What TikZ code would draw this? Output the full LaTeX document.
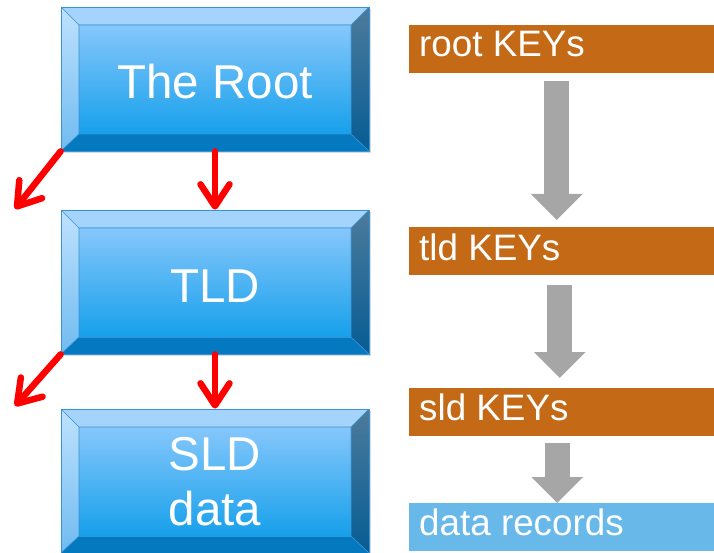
\documentclass[tikz,border=0pt]{standalone}
\usepackage{fontspec}
\setmainfont{Liberation Sans}
\usetikzlibrary{arrows.meta,calc,shadows}

\definecolor{bevtop}{HTML}{A4D3FB}
\definecolor{bevleftA}{HTML}{BFE2FE}
\definecolor{bevleftB}{HTML}{70BBF0}
\definecolor{bevrightA}{HTML}{4D7B9C}
\definecolor{bevrightB}{HTML}{065C93}
\definecolor{bevbottom}{HTML}{0579BF}
\definecolor{faceA}{HTML}{86C7FB}
\definecolor{faceM}{HTML}{6CBBF5}
\definecolor{faceB}{HTML}{16A0EB}
\definecolor{bevline}{HTML}{3A92D6}
\definecolor{keyorange}{HTML}{C46A17}
\definecolor{recblue}{HTML}{68B8EA}
\definecolor{flowgray}{HTML}{A6A6A6}

\tikzset{
  bevelbox/.style={
    minimum width=308pt, minimum height=144pt, inner sep=0pt,
    draw=bevline, line width=0.8pt,
    drop shadow={shadow xshift=2pt, shadow yshift=-2pt, opacity=0.25, fill=black!60},
    path picture={
      \path (path picture bounding box.north west) coordinate (bnw)
            (path picture bounding box.north east) coordinate (bne)
            (path picture bounding box.south east) coordinate (bse)
            (path picture bounding box.south west) coordinate (bsw)
            ([shift={(18pt,-18pt)}]bnw) coordinate (inw)
            ([shift={(-18pt,-18pt)}]bne) coordinate (ine)
            ([shift={(-18pt,17pt)}]bse) coordinate (ise)
            ([shift={(18pt,17pt)}]bsw) coordinate (isw);
      \fill[bevtop] (bnw) -- (bne) -- (ine) -- (inw) -- cycle;
      \shade[top color=bevleftA, bottom color=bevleftB] (bnw) -- (inw) -- (isw) -- (bsw) -- cycle;
      \shade[top color=bevrightA, bottom color=bevrightB] (bne) -- (bse) -- (ise) -- (ine) -- cycle;
      \fill[bevbottom] (bsw) -- (isw) -- (ise) -- (bse) -- cycle;
      \shade[top color=faceA, middle color=faceM, bottom color=faceB] (inw) rectangle (ise);
      \draw[bevline, line width=0.6pt] (bnw) -- (inw) (bne) -- (ine) (bsw) -- (isw) (bse) -- (ise)
            (inw) rectangle (ise);
    }},
  boxlabel/.style={text=white, font=\fontsize{47.5}{55}\selectfont, inner sep=0pt, anchor=base},
  keybar/.style={fill=#1, minimum width=305pt, minimum height=48pt, inner sep=0pt, anchor=north west},
  barlabel/.style={text=white, font=\fontsize{36.8}{43}\selectfont, inner sep=0pt, anchor=base west},
  redarrow/.style={draw=red, line width=6.5pt, line cap=round,
    -{Straight Barb[length=22pt,width=29pt,round]}},
  grayarrow/.style={draw=flowgray, line width=25pt,
    -{Triangle[width=50pt,length=26pt]}}
}

\begin{document}
\begin{tikzpicture}[x=1pt,y=-1pt]
  \useasboundingbox (0,0) rectangle (714,553);

  % hierarchy boxes
  \node[bevelbox] (root) at (215,79) {};
  \node[bevelbox] (tld) at (215,282) {};
  \node[bevelbox] (sld) at (215,481) {};
  \node[boxlabel] (rootlbl) at (215,99) {The Root};
  \node[boxlabel] (tldlbl) at (215,302.5) {TLD};
  \node[boxlabel] (sldlbl) at (215,470) {SLD};
  \node[boxlabel] (datalbl) at (215,525) {data};

  % red links
  \coordinate (outA) at (15,209);
  \coordinate (outB) at (15,406);
  \draw[redarrow] (root.south west) -- (outA);
  \draw[redarrow] (root.south) -- (tld.north);
  \draw[redarrow] (tld.south west) -- (outB);
  \draw[redarrow] (tld.south) -- (sld.north);

  % key bars
  \node[keybar=keyorange] (rk) at (409,25) {};
  \node[keybar=keyorange] (tk) at (409,227) {};
  \node[keybar=keyorange] (sk) at (409,388) {};
  \node[keybar=recblue] (dk) at (409,503) {};
  \node[barlabel] (rklbl) at (419,57) {root KEYs};
  \node[barlabel] (tklbl) at (419,260) {tld KEYs};
  \node[barlabel] (sklbl) at (419,420) {sld KEYs};
  \node[barlabel] (dklbl) at (419,535) {data records};

  % gray flow arrows
  \draw[grayarrow, shorten <=8pt, shorten >=7pt] ([xshift=-5pt]rk.south) -- ([xshift=-5pt]tk.north);
  \draw[grayarrow, shorten <=10pt, shorten >=10pt] ([xshift=-2pt]tk.south) -- ([xshift=-2pt]sk.north);
  \draw[grayarrow, shorten <=7pt] ([xshift=-4.5pt]sk.south) -- ([xshift=-4.5pt]dk.north);
\end{tikzpicture}
\end{document}
